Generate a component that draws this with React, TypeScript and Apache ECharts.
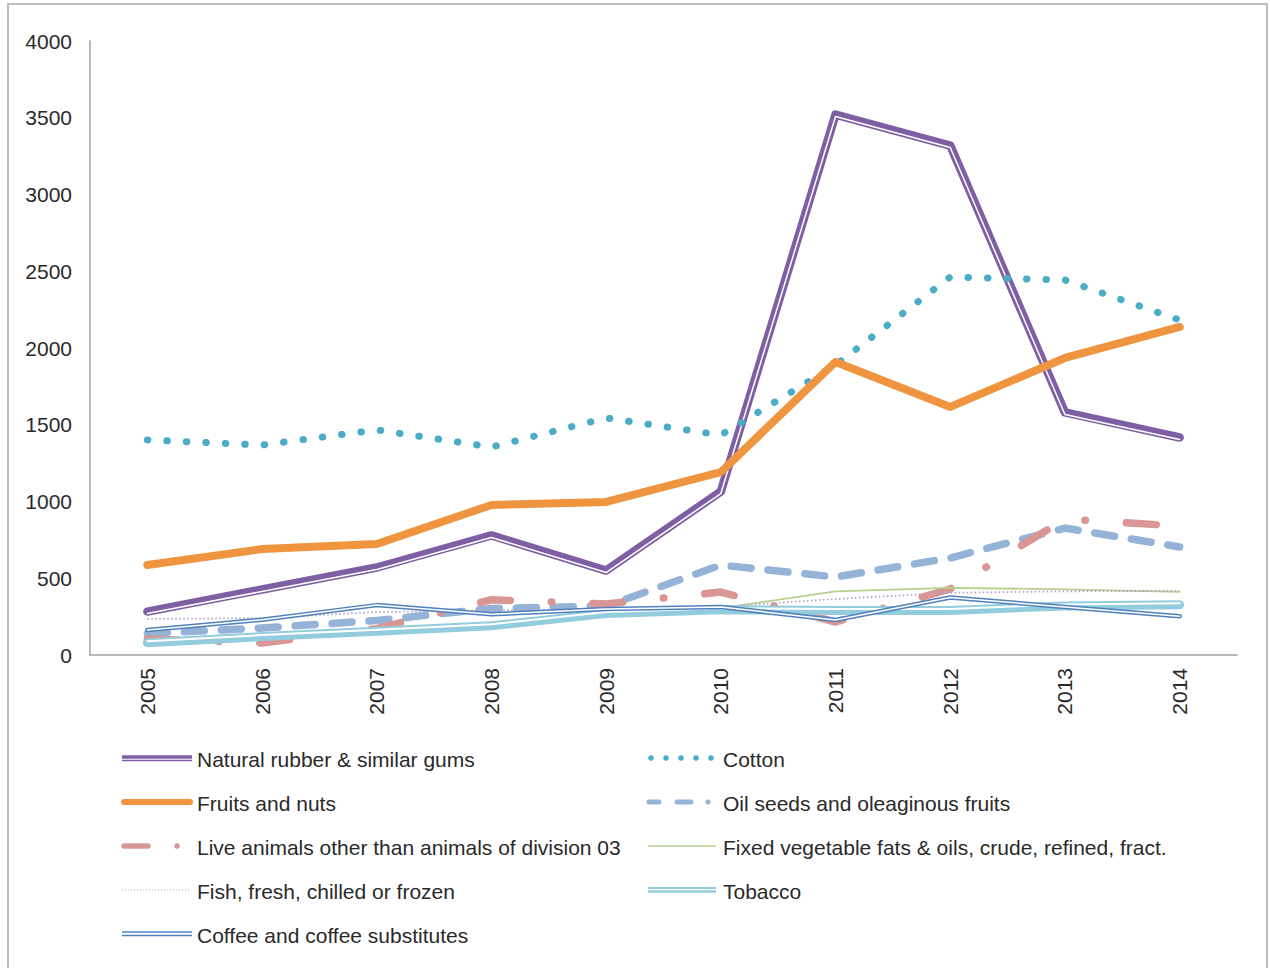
import React, { useEffect, useRef } from "react";
import * as echarts from "echarts";

const years = ["2005", "2006", "2007", "2008", "2009", "2010", "2011", "2012", "2013", "2014"];
const yTicks = [0, 500, 1000, 1500, 2000, 2500, 3000, 3500, 4000];

const rubber = [283, 427, 570, 779, 550, 1065, 3521, 3319, 1580, 1417];
const cotton = [1401, 1368, 1466, 1355, 1544, 1433, 1889, 2463, 2443, 2182];
const fruits = [586, 690, 723, 977, 997, 1192, 1909, 1616, 1935, 2137];
const oilSeeds = [140, 176, 225, 303, 319, 586, 508, 632, 827, 704];
const liveAnimals = [104, 78, 172, 360, 332, 410, 215, 430, 886, 840];
const vegFats = [90, 120, 150, 210, 265, 305, 415, 437, 428, 411];
const fish = [235, 240, 280, 290, 300, 315, 365, 405, 415, 418];
const tobacco = [80, 120, 155, 190, 270, 295, 290, 290, 320, 328];
const coffee = [163, 230, 325, 265, 300, 313, 228, 375, 313, 252];

const names = {
  rubber: "Natural rubber & similar gums",
  cotton: "Cotton",
  fruits: "Fruits and nuts",
  oil: "Oil seeds and oleaginous fruits",
  live: "Live animals other than animals of division 03",
  veg: "Fixed vegetable fats & oils, crude, refined, fract.",
  fish: "Fish, fresh, chilled or frozen",
  tobacco: "Tobacco",
  coffee: "Coffee and coffee substitutes",
};

const C = {
  rubber: "#7f5fa3",
  cotton: "#4bacc6",
  fruits: "#f0953f",
  oil: "#95b3d7",
  live: "#d99694",
  veg: "#b9d08d",
  fish: "#b3a2c7",
  tobacco: "#93cddd",
  coffee: "#4f81bd",
};

const FONT = "'Liberation Sans', Arial, Helvetica, sans-serif";
const AXIS = "#a3a3a3";
const TEXT = "#2a2a2a";

function line(name: string, data: number[], lineStyle: any, g = 0) {
  return {
    type: "line",
    name,
    data,
    xAxisIndex: g,
    yAxisIndex: g,
    symbol: "none",
    silent: true,
    lineStyle: { cap: "round", join: "round", ...lineStyle },
  };
}

const gridBase = { left: 90, right: 33, top: 41, bottom: 313 };
const grids = [
  gridBase,
  { ...gridBase, top: 43, bottom: 311 }, // shifted down (rubber stripe)
  { ...gridBase, top: 39.5, bottom: 314.5 }, // shifted up (tobacco stripe)
];

function xAxis(i: number) {
  return {
    type: "category",
    gridIndex: i,
    data: years,
    boundaryGap: true,
    show: i === 0,
    axisLine: { show: true, lineStyle: { color: AXIS, width: 1.5 } },
    axisTick: { show: false },
    axisLabel: { rotate: 90, fontSize: 21, color: TEXT, fontFamily: FONT, margin: 13 },
    splitLine: { show: false },
  };
}
function yAxis(i: number) {
  return {
    type: "value",
    gridIndex: i,
    min: yTicks[0],
    max: yTicks[yTicks.length - 1],
    interval: yTicks[1] - yTicks[0],
    show: i === 0,
    axisLine: { show: true, lineStyle: { color: AXIS, width: 1.5 } },
    axisTick: { show: false },
    axisLabel: {
      fontSize: 21,
      color: TEXT,
      fontFamily: FONT,
      margin: 18,
      formatter: (v: number) => String(v),
    },
    splitLine: { show: false },
  };
}

function legendText(x: number, y: number, text: string) {
  return {
    type: "text",
    x,
    y,
    style: { text, fontSize: 21, fontFamily: FONT, fill: TEXT, verticalAlign: "middle" },
  };
}
function seg(x1: number, y1: number, x2: number, y2: number, stroke: string, lineWidth: number, extra: any = {}) {
  return { type: "line", shape: { x1, y1, x2, y2 }, style: { stroke, lineWidth, ...extra } };
}
function dot(cx: number, cy: number, r: number, fill: string) {
  return { type: "circle", shape: { cx, cy, r }, style: { fill } };
}

const LX = 122, LT = 197, RX = 646, RT = 723;
const rows = [760, 804, 848, 892, 936];

const legendGraphics: any[] = [
  // rubber
  seg(LX, rows[0] - 3, LX + 70, rows[0] - 3, C.rubber, 3.5),
  seg(LX, rows[0] + 0.5, LX + 70, rows[0] + 0.5, C.rubber, 1.5),
  legendText(LT, rows[0] - 1, names.rubber),
  // cotton
  ...[0, 1, 2, 3, 4].map((k) => dot(RX + 5 + k * 15, rows[0] - 2, 2.8, C.cotton)),
  legendText(RT, rows[0] - 1, names.cotton),
  // fruits
  seg(LX + 2, rows[1] - 2, LX + 68, rows[1] - 2, C.fruits, 6, { lineCap: "round" }),
  legendText(LT, rows[1] - 1, names.fruits),
  // oil seeds
  seg(RX + 3, rows[1] - 2, RX + 13, rows[1] - 2, C.oil, 5, { lineCap: "round" }),
  seg(RX + 31, rows[1] - 2, RX + 45, rows[1] - 2, C.oil, 5, { lineCap: "round" }),
  dot(RX + 62, rows[1] - 2, 2.6, C.oil),
  legendText(RT, rows[1] - 1, names.oil),
  // live animals
  seg(LX + 2, rows[2] - 2, LX + 26, rows[2] - 2, C.live, 5.5, { lineCap: "round" }),
  dot(LX + 55, rows[2] - 2, 2.8, C.live),
  legendText(LT, rows[2] - 1, names.live),
  // veg fats
  seg(RX + 2, rows[2] - 2, RX + 70, rows[2] - 2, C.veg, 1.5),
  legendText(RT, rows[2] - 1, names.veg),
  // fish
  seg(LX, rows[3] - 2, LX + 68, rows[3] - 2, "#b9aec9", 1.2, { lineDash: [1.2, 1.8] }),
  legendText(LT, rows[3] - 1, names.fish),
  // tobacco
  seg(RX + 2, rows[3] - 4, RX + 70, rows[3] - 4, C.tobacco, 1.8),
  seg(RX + 2, rows[3] - 0.5, RX + 70, rows[3] - 0.5, C.tobacco, 2.5),
  legendText(RT, rows[3] - 1, names.tobacco),
  // coffee
  seg(LX, rows[4] - 4, LX + 70, rows[4] - 4, C.coffee, 1.5),
  seg(LX, rows[4] - 0.5, LX + 70, rows[4] - 0.5, C.coffee, 1.5),
  legendText(LT, rows[4] - 1, names.coffee),
];

const option: any = {
  animation: false,
  backgroundColor: "#ffffff",
  grid: grids,
  xAxis: [xAxis(0), xAxis(1), xAxis(2)],
  yAxis: [yAxis(0), yAxis(1), yAxis(2)],
  series: [
    line(names.rubber, rubber, { color: C.rubber, width: 8.5 }),
    line("rubber-gap", rubber, { color: "#ffffff", width: 1.5 }, 1),
    line(names.cotton, cotton, { color: C.cotton, width: 7, type: [0.5, 19] }),
    line(names.fruits, fruits, { color: C.fruits, width: 8 }),
    line(names.oil, oilSeeds, { color: C.oil, width: 7.5, type: [20, 17] }),
    line(names.live, liveAnimals, { color: C.live, width: 7.5, type: [30, 41, 0.5, 41] }),
    line(names.veg, vegFats, { color: C.veg, width: 1.8 }),
    line(names.fish, fish, { color: C.fish, width: 1.8, type: [1.5, 2.5], cap: "butt" }),
    line(names.tobacco, tobacco, { color: C.tobacco, width: 9 }),
    line("tobacco-gap", tobacco, { color: "#ffffff", width: 2 }, 2),
    line(names.coffee, coffee, { color: C.coffee, width: 4.5 }),
    line("coffee-gap", coffee, { color: "#ffffff", width: 1.5 }),
  ],
  graphic: [
    {
      type: "rect",
      shape: { x: 8, y: 4, width: 1259, height: 1000 },
      style: { fill: "none", stroke: "#a8a8a8", lineWidth: 1.5 },
      silent: true,
    },
    ...legendGraphics,
  ],
};

export default function App() {
  const ref = useRef<HTMLDivElement>(null);
  useEffect(() => {
    if (!ref.current) return;
    const chart = echarts.init(ref.current, null, { renderer: "svg" });
    chart.setOption(option);
    return () => chart.dispose();
  }, []);
  return (
    <div
      ref={ref}
      style={{ position: "fixed", left: 0, top: 0, width: 1270, height: 968, background: "#fff" }}
    />
  );
}
